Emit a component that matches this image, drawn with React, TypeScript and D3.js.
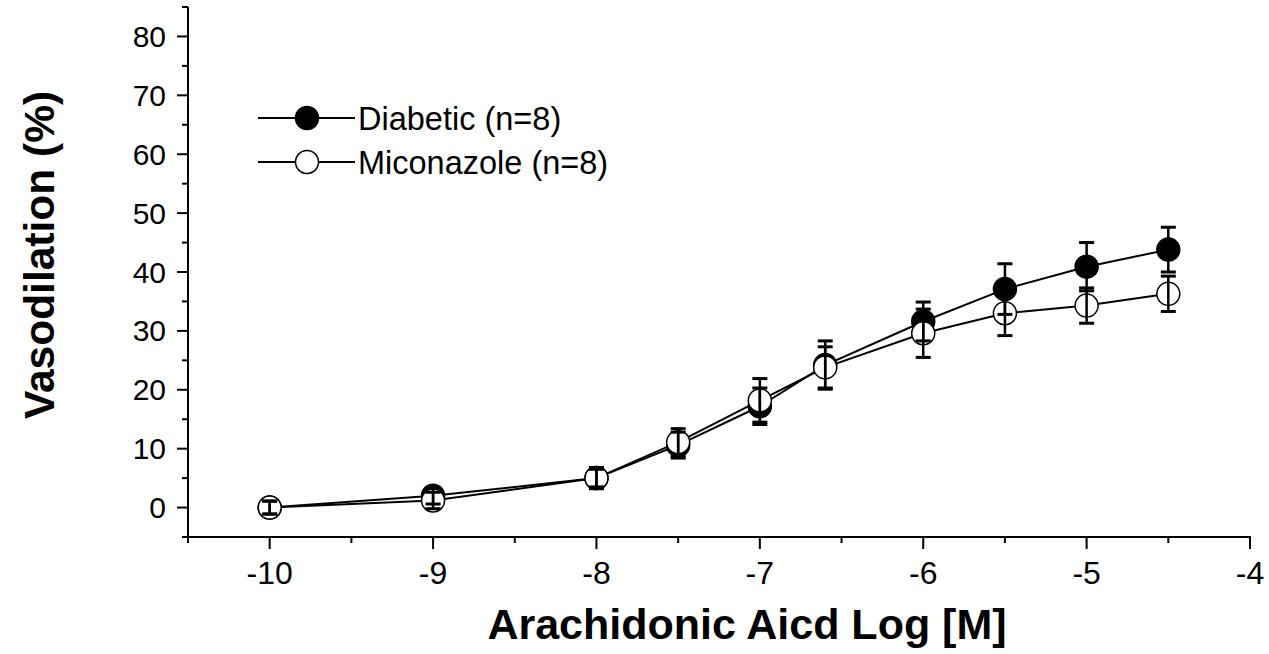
import React from "react";
import * as d3 from "d3";

const doses = [-10, -9, -8, -7.5, -7, -6.6, -6, -5.5, -5, -4.5];
const diabetic = [0, 2, 5, 10.6, 17.2, 24.2, 31.6, 37.1, 40.9, 43.8];
const diabeticSem = [1.1, 1.4, 1.5, 2.2, 3.1, 4.1, 3.3, 4.3, 4.1, 3.8];
const miconazole = [0, 1.2, 5, 11.1, 18.2, 23.8, 29.6, 33, 34.3, 36.3];
const miconazoleSem = [1.1, 1.4, 1.8, 2.3, 3.7, 3.5, 4.1, 3.8, 3, 3];

const xMajor = [-10, -9, -8, -7, -6, -5, -4];
const xMinor = [-10.5, -9.5, -8.5, -7.5, -6.5, -5.5, -4.5];
const yMajor = [0, 10, 20, 30, 40, 50, 60, 70, 80];
const yMinor = [-5, 5, 15, 25, 35, 45, 55, 65, 75, 85];

const legendItems = [
  { label: "Diabetic (n=8)", filled: true },
  { label: "Miconazole (n=8)", filled: false },
];

const W = 1269;
const H = 654;
const font = "'Liberation Sans', Arial, sans-serif";

export default function App() {
  const x = d3.scaleLinear().domain([-10.5, -4]).range([188, 1250]);
  const y = d3.scaleLinear().domain([-5, 85]).range([537, 7]);
  const r = 11.5;

  const series = [
    { values: diabetic, sem: diabeticSem, filled: true },
    { values: miconazole, sem: miconazoleSem, filled: false },
  ];

  const line = d3
    .line<number>()
    .x((_, i) => x(doses[i]))
    .y((d) => y(d));

  const x0 = x.range()[0];
  const y0 = y.range()[0];

  return (
    <svg
      width={W}
      height={H}
      style={{ position: "absolute", left: 0, top: 0, background: "#fff" }}
      fontFamily={font}
    >
      {/* connecting lines */}
      {series.map((s, k) => (
        <path key={k} d={line(s.values)!} fill="none" stroke="#000" strokeWidth={2} />
      ))}

      {/* markers */}
      {series.map((s, k) => (
        <g key={k}>
          {s.values.map((v, i) => (
            <circle
              key={i}
              cx={x(doses[i])}
              cy={y(v)}
              r={r}
              fill={s.filled ? "#000" : "#fff"}
              stroke="#000"
              strokeWidth={1.5}
            />
          ))}
        </g>
      ))}

      {/* error bars */}
      {series.map((s, k) => (
        <g key={k} stroke="#000">
          {s.values.map((v, i) => {
            const cx = x(doses[i]);
            const top = y(v + s.sem[i]);
            const bot = y(v - s.sem[i]);
            return (
              <g key={i}>
                <line x1={cx} x2={cx} y1={top} y2={bot} strokeWidth={2.5} />
                <line x1={cx - 7.5} x2={cx + 7.5} y1={top} y2={top} strokeWidth={3} />
                <line x1={cx - 7.5} x2={cx + 7.5} y1={bot} y2={bot} strokeWidth={3} />
              </g>
            );
          })}
        </g>
      ))}

      {/* axes */}
      <g stroke="#000" strokeWidth={2}>
        <line x1={x0} x2={x0} y1={y.range()[1]} y2={y0 + 1} />
        <line x1={x0 - 1} x2={x.range()[1] + 1} y1={y0} y2={y0} />
        {xMajor.map((t) => (
          <line key={t} x1={x(t)} x2={x(t)} y1={y0} y2={y0 + 12} />
        ))}
        {xMinor.map((t) => (
          <line key={t} x1={x(t)} x2={x(t)} y1={y0} y2={y0 + 6} />
        ))}
        {yMajor.map((t) => (
          <line key={t} x1={x0} x2={x0 - 11} y1={y(t)} y2={y(t)} />
        ))}
        {yMinor.map((t) => (
          <line key={t} x1={x0} x2={x0 - 6} y1={y(t)} y2={y(t)} />
        ))}
      </g>

      {xMajor.map((t) => (
        <text key={t} x={x(t)} y={584} fontSize={32} textAnchor="middle">
          {t}
        </text>
      ))}
      {yMajor.map((t) => (
        <text key={t} x={166} y={y(t) + 10.5} fontSize={30} textAnchor="end">
          {t}
        </text>
      ))}

      <text x={747} y={639} fontSize={43} fontWeight="bold" textAnchor="middle">
        Arachidonic Aicd Log [M]
      </text>
      <text
        transform="translate(54,255) rotate(-90)"
        fontSize={42.5}
        fontWeight="bold"
        textAnchor="middle"
      >
        Vasodilation (%)
      </text>

      {/* legend */}
      {legendItems.map((item, i) => {
        const ly = 118 + i * 44;
        return (
          <g key={item.label}>
            <line x1={258} x2={355} y1={ly} y2={ly} stroke="#000" strokeWidth={2} />
            <circle
              cx={307}
              cy={ly}
              r={r}
              fill={item.filled ? "#000" : "#fff"}
              stroke="#000"
              strokeWidth={1.5}
            />
            <text x={358} y={ly + 11.5} fontSize={32.5}>
              {item.label}
            </text>
          </g>
        );
      })}
    </svg>
  );
}
